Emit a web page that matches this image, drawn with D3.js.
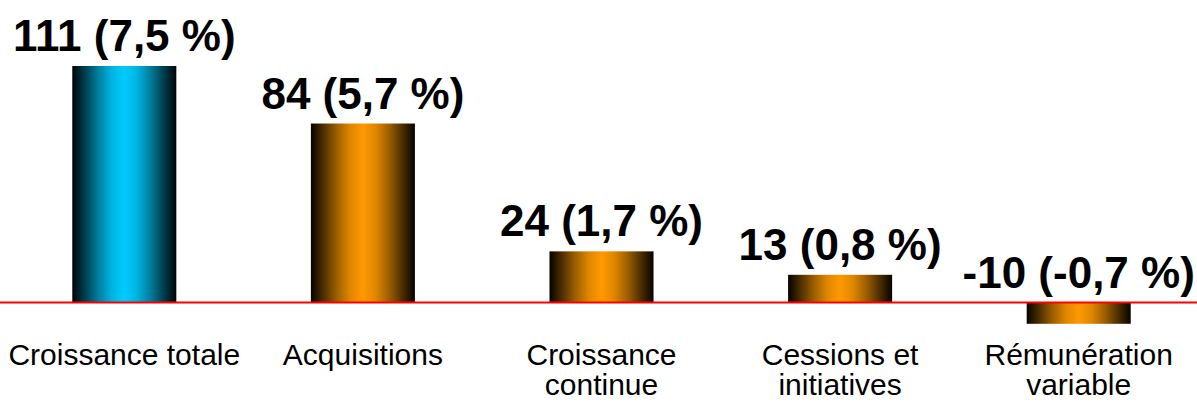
<!DOCTYPE html>
<html>
<head>
<meta charset="utf-8">
<script src="https://cdn.jsdelivr.net/npm/d3@7"></script>
<style>
html,body{margin:0;padding:0;background:#fff;}
svg{display:block;}
</style>
</head>
<body>
<svg id="chart" width="1197" height="402"></svg>
<script>
const categories = [["Croissance totale"], ["Acquisitions"], ["Croissance", "continue"], ["Cessions et", "initiatives"], ["Rémunération", "variable"]];
const values = [111, 84, 24, 13, -10];
const valueLabels = ["111 (7,5 %)", "84 (5,7 %)", "24 (1,7 %)", "13 (0,8 %)", "-10 (-0,7 %)"];
const colorKeys = ["cyan", "orange", "orange", "orange", "orange"];

const W = 1197, H = 402;
const svg = d3.select("#chart");
const defs = svg.append("defs");
const colors = {cyan: "#00CCFF", orange: "#FF9900"};
const gradStops = [[0, 0.02], [0.12, 0.3], [0.25, 0.62], [0.38, 0.88], [0.5, 1], [0.62, 0.88], [0.75, 0.62], [0.88, 0.3], [1, 0.02]];
Object.entries(colors).forEach(([k, c]) => {
  const g = defs.append("linearGradient").attr("id", "grad-" + k)
    .attr("x1", "0%").attr("x2", "100%").attr("y1", "0%").attr("y2", "0%");
  const interp = d3.interpolateRgb("#000", c);
  gradStops.forEach(([o, m]) => {
    g.append("stop").attr("offset", (o * 100) + "%").attr("stop-color", interp(m));
  });
});

const idx = d3.range(values.length);
const x = d3.scaleBand().domain(idx).range([5, 1198]).paddingInner(0.564).paddingOuter(0.282);
const y = d3.scaleLinear().domain([0, 111]).range([302.5, 66]);

svg.selectAll("rect.bar").data(idx).enter().append("rect")
  .attr("class", "bar")
  .attr("x", i => x(i))
  .attr("width", x.bandwidth())
  .attr("y", i => Math.min(y(values[i]), y(0)))
  .attr("height", i => Math.abs(y(values[i]) - y(0)))
  .attr("fill", i => "url(#grad-" + colorKeys[i] + ")");

svg.append("line").attr("x1", 0).attr("x2", W).attr("y1", y(0)).attr("y2", y(0))
  .attr("stroke", "#FF0000").attr("stroke-width", 2.2);

svg.selectAll("text.val").data(idx).enter().append("text")
  .attr("class", "val")
  .attr("x", i => x(i) + x.bandwidth() / 2)
  .attr("y", i => Math.min(y(values[i]), y(0)) - 15)
  .attr("text-anchor", "middle")
  .attr("font-family", "Liberation Sans, Arial, sans-serif")
  .attr("font-weight", "bold")
  .attr("font-size", 44)
  .attr("fill", "#000")
  .text(i => valueLabels[i]);

const cat = svg.selectAll("text.cat").data(idx).enter().append("text")
  .attr("class", "cat")
  .attr("x", i => x(i) + x.bandwidth() / 2)
  .attr("y", 365)
  .attr("text-anchor", "middle")
  .attr("font-family", "Liberation Sans, Arial, sans-serif")
  .attr("font-size", 30)
  .attr("fill", "#000");
cat.each(function(i) {
  const t = d3.select(this);
  categories[i].forEach((line, j) => {
    t.append("tspan").attr("x", x(i) + x.bandwidth() / 2).attr("dy", j === 0 ? 0 : 30).text(line);
  });
});
</script>
</body>
</html>
